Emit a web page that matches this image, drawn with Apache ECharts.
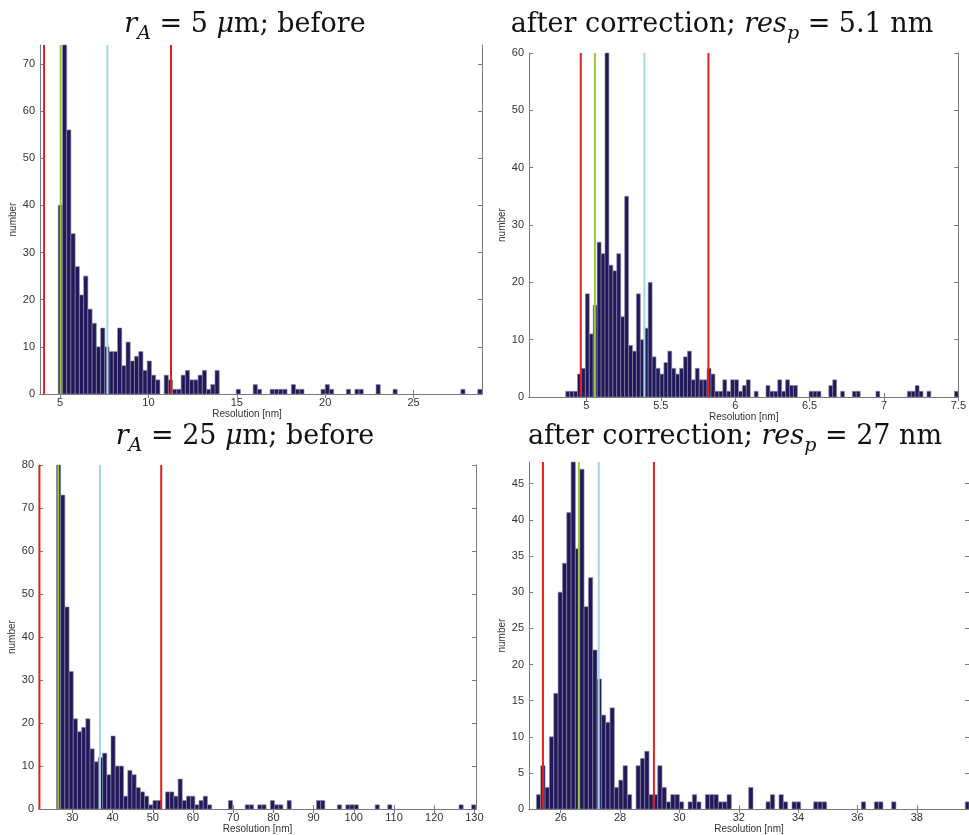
<!DOCTYPE html>
<html><head><meta charset="utf-8">
<script src="https://cdn.jsdelivr.net/npm/echarts@6/dist/echarts.min.js"></script>
<style>html,body{margin:0;padding:0;background:#fff}#c{width:969px;height:835px}</style>
</head><body><div id="c"></div><script>
// ---------- DATA ----------
// Panel 1: r_A = 5 um, before
const p1BinStart = 4.90, p1BinWidth = 0.2397;
const p1Counts = [40,80,56,34,27,21,25,18,15,10, 14,10,9,9,14,6,11,7,8,9, 5,7,4,3,0,4,3,1,1,4, 5,3,3,4,5,1,2,5,0,0,
  0,0,1,0,0,0,2,1,0,0, 1,1,1,1,0,2,1,1,0,0, 0,0,1,2,1,0,0,0,1,0, 1,1,0,0,0,2,0,0,0,1,
  0,0,0,0,0,0,0,0,0,0, 0,0,0,0,0,1,0,0,0,1];
const p1Lines = [4.10, 5.04, 7.68, 11.28];   // red, green, cyan, red
const p1XTicks = [5,10,15,20,25];
const p1YTicks = [0,10,20,30,40,50,60,70];

// Panel 2: after correction, res_p = 5.1 nm
const p2BinStart = 4.861, p2BinWidth = 0.02639;
const p2Counts = [1,1,1,4,5,18,11,16,27,25, 62,23,22,25,14,35,9,8,18,10, 12,20,7,5,4,6,8,5,4,5, 7,8,3,5,3,3,5,4,1,1,
  3,1,3,3,1,2,3,0,1,0, 0,2,1,1,3,1,3,2,2,0, 0,0,1,1,1,0,0,2,3,0, 1,0,0,1,1,0,0,0,0,1,
  0,0,0,0,0,0,0,1,1,2, 1,0,1,0,0,0,0,0,0,1];
const p2Lines = [4.962, 5.057, 5.39, 5.82];
const p2XTicks = [5,5.5,6,6.5,7,7.5];
const p2YTicks = [0,10,20,30,40,50,60];

// Panel 3: r_A = 25 um, before
const p3BinStart = 26.05, p3BinWidth = 1.043;
const p3Counts = [85,73,47,32,21,18,19,21,14,11, 12,13,8,17,10,10,3,9,8,5, 4,3,1,2,2,0,4,4,3,7, 2,3,3,1,2,3,1,0,0,0,
  0,2,0,0,0,1,1,0,1,1, 0,2,1,1,0,2,0,0,0,0, 0,0,2,2,0,0,0,1,0,1, 1,1,0,0,0,0,1,0,0,1,
  0,0,0,0,0,0,0,0,0,0, 0,0,0,0,0,0,1,0,0,1];
const p3Lines = [21.8, 26.5, 36.87, 52.1];
const p3XTicks = [30,40,50,60,70,80,90,100,110,120,130];
const p3YTicks = [0,10,20,30,40,50,60,70,80];

// Panel 4: after correction, res_p = 27 nm
const p4BinStart = 25.18, p4BinWidth = 0.146;
const p4Counts = [2,6,3,10,16,30,34,41,50,36, 47,28,32,22,18,13,12,14,3,4, 6,2,0,6,7,8,2,2,6,3, 1,2,2,1,0,1,2,1,0,2,
  2,2,1,1,2,0,0,0,0,3, 0,0,0,1,2,0,2,1,0,1, 1,0,0,0,1,1,1,0,0,0, 0,0,0,0,0,1,0,0,1,1,
  0,0,1,0,0,0,0,0,0,0, 0,0,0,0,0,0,0,0,0,1];
const p4Lines = [25.40, 26.61, 27.28, 29.14];
const p4XTicks = [26,28,30,32,34,36,38];
const p4YTicks = [0,5,10,15,20,25,30,35,40,45];

// ---------- LAYOUT / STYLE ----------
const BAR = '#22195a', EDGE = '#8e8ca8', AXIS = '#7a7a7a', LBL = '#333333';
const LINE_COLORS = ['#e0201f', '#97c93c', '#a6d6e1', '#e0201f'];
const panels = [
  {grid:{left:40, top:45, width:442, height:349}, xr:[3.87, 28.87], yr:[0,74], start:p1BinStart, w:p1BinWidth, counts:p1Counts, lines:p1Lines, xt:p1XTicks, yt:p1YTicks, namePad:[0,28,0,0]},
  {grid:{left:529, top:53, width:437, height:344}, xr:[4.614, 7.5], yr:[0,60], start:p2BinStart, w:p2BinWidth, counts:p2Counts, lines:p2Lines, xt:p2XTicks, yt:p2YTicks, namePad:[0,0,0,0]},
  {grid:{left:39, top:465, width:437, height:345}, xr:[21.7, 130.4], yr:[0,80], start:p3BinStart, w:p3BinWidth, counts:p3Counts, lines:p3Lines, xt:p3XTicks, yt:p3YTicks, namePad:[0,0,0,0]},
  {grid:{left:529, top:462, width:440, height:349}, xr:[24.93, 39.76], yr:[0,48], start:p4BinStart, w:p4BinWidth, counts:p4Counts, lines:p4Lines, xt:p4XTicks, yt:p4YTicks, namePad:[0,0,0,0]}
];

function renderBar(params, api){
  const c = api.value(2);
  if (!c) return null;
  const a = api.coord([api.value(0), 0]);
  const b = api.coord([api.value(1), c]);
  const cs = params.coordSys;
  const r = echarts.graphic.clipRectByRect(
    {x:a[0], y:b[1], width:b[0]-a[0], height:a[1]-b[1]},
    {x:cs.x, y:cs.y, width:cs.width, height:cs.height});
  if (!r) return null;
  return {type:'rect', shape:r, style:{fill:BAR, stroke:EDGE, lineWidth:0.6}};
}

const sans = 'Liberation Sans, Arial, sans-serif';
const grid = [], xAxis = [], yAxis = [], series = [];
panels.forEach((p, k) => {
  grid.push(p.grid);
  const tickCommon = {show:true, inside:true, length:4, lineStyle:{color:AXIS}};
  xAxis.push({gridIndex:k, type:'value', position:'bottom', min:p.xr[0], max:p.xr[1],
    axisLine:{show:true, lineStyle:{color:AXIS, width:1}},
    axisTick:Object.assign({customValues:p.xt}, tickCommon),
    axisLabel:{customValues:p.xt, color:LBL, fontSize:11, margin:3, fontFamily:sans},
    splitLine:{show:false},
    name:'Resolution [nm]', nameLocation:'middle', nameGap:12,
    nameTextStyle:{fontSize:10, color:LBL, fontFamily:sans, padding:p.namePad}});
  xAxis.push({gridIndex:k, type:'value', position:'top', min:p.xr[0], max:p.xr[1],
    axisLine:{show:true, lineStyle:{color:AXIS, width:1}},
    axisTick:Object.assign({customValues:p.xt}, tickCommon),
    axisLabel:{show:false}, splitLine:{show:false}});
  yAxis.push({gridIndex:k, type:'value', position:'left', min:p.yr[0], max:p.yr[1],
    axisLine:{show:true, lineStyle:{color:AXIS, width:1}},
    axisTick:Object.assign({customValues:p.yt}, tickCommon),
    axisLabel:{customValues:p.yt, color:LBL, fontSize:11, margin:5, fontFamily:sans},
    splitLine:{show:false},
    name:'number', nameLocation:'middle', nameGap:22,
    nameTextStyle:{fontSize:10, color:LBL, fontFamily:sans}});
  yAxis.push({gridIndex:k, type:'value', position:'right', min:p.yr[0], max:p.yr[1],
    axisLine:{show:true, lineStyle:{color:AXIS, width:1}},
    axisTick:Object.assign({customValues:p.yt}, tickCommon),
    axisLabel:{show:false}, splitLine:{show:false}});
  const data = p.counts.map((c, i) => [p.start + i*p.w, p.start + (i+1)*p.w, c]);
  series.push({type:'custom', xAxisIndex:2*k, yAxisIndex:2*k, data:data, encode:{x:[0,1], y:2},
    renderItem:renderBar, silent:true, z:2});
  p.lines.forEach((x, j) => {
    series.push({type:'line', xAxisIndex:2*k, yAxisIndex:2*k, data:[[x, p.yr[0]], [x, p.yr[1]]],
      showSymbol:false, symbol:'none', silent:true, z:3,
      lineStyle:{color:LINE_COLORS[j], width:2}});
  });
});

const serif = 'DejaVu Serif, Liberation Serif, serif';
const FS = 27;
const rich = {
  n:{fontFamily:serif, fontSize:FS, fontWeight:'normal', color:'#111', lineHeight:34, verticalAlign:'bottom', padding:[0,0,6,0]},
  i:{fontFamily:serif, fontSize:FS, fontWeight:'normal', fontStyle:'italic', color:'#111', lineHeight:34, verticalAlign:'bottom', padding:[0,0,6,0]},
  s:{fontFamily:serif, fontSize:19, fontWeight:'normal', fontStyle:'italic', color:'#111', lineHeight:24, verticalAlign:'bottom', padding:[0,0,0,0]}
};
function mkTitle(text, left, top){
  return {text:text, left:left, top:top, padding:0, textAlign:'center',
    textStyle:{rich:rich, fontFamily:serif, fontSize:FS, fontWeight:'normal', color:'#111'}};
}
const title = [
  mkTitle('{i|r}{s|A}{n| = 5 }{i|μ}{n|m; before}', 245, 10),
  mkTitle('{n|after correction; }{i|res}{s|p}{n| = 5.1 nm}', 722, 10),
  mkTitle('{i|r}{s|A}{n| = 25 }{i|μ}{n|m; before}', 245, 422),
  mkTitle('{n|after correction; }{i|res}{s|p}{n| = 27 nm}', 735, 422)
];

const chart = echarts.init(document.getElementById('c'), null, {renderer:'canvas'});
chart.setOption({animation:false, backgroundColor:'#fff', title:title, grid:grid, xAxis:xAxis, yAxis:yAxis, series:series});
</script></body></html>
